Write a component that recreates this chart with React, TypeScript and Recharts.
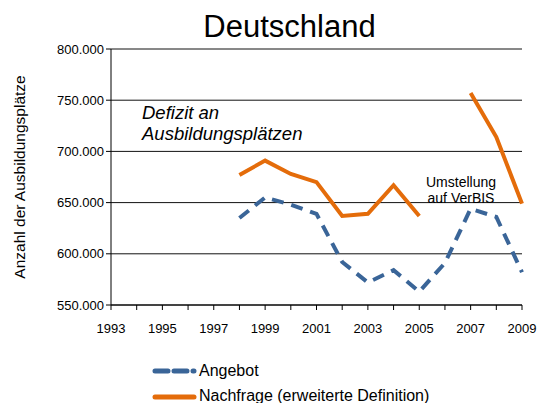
import React from 'react';
import { LineChart, Line, XAxis, YAxis, CartesianGrid } from 'recharts';

const years = [1998, 1999, 2000, 2001, 2002, 2003, 2004, 2005, 2006, 2007, 2008, 2009];
const angebot = [635000, 655000, 648000, 639000, 592000, 572000, 584000, 563000, 591000, 644000, 636000, 582000];
const nachfrage = [677000, 691000, 678000, 670000, 637000, 639000, 667000, 637000, null, 757000, 714000, 649000];
const xTicks = [1993, 1994, 1995, 1996, 1997, 1998, 1999, 2000, 2001, 2002, 2003, 2004, 2005, 2006, 2007, 2008, 2009];
const yTicks = [550000, 600000, 650000, 700000, 750000, 800000];

const BLUE = '#3A6598';
const ORANGE = '#E46C0A';
const FONT = '"Liberation Sans", Arial, sans-serif';

const data = years.map((year, i) => ({ year, angebot: angebot[i], nachfrage: nachfrage[i] }));

const fmt = (v: number) => v.toLocaleString('de-DE', { minimumFractionDigits: 0 }).replace(/\s/g, '.');

const XTick = (props: any) => {
  const { x, y, payload } = props;
  if (payload.value % 2 === 0) return null;
  return (
    <text x={x} y={y + 21} textAnchor="middle" fontSize={13} fill="#000" fontFamily={FONT}>
      {payload.value}
    </text>
  );
};

export default function App() {
  return (
    <div style={{ position: 'absolute', left: 0, top: 0, width: 539, height: 403, background: '#fff', fontFamily: FONT, overflow: 'hidden' }}>
      <LineChart width={539} height={403} data={data} margin={{ top: 49, right: 17, left: 0, bottom: 68 }}>
        <CartesianGrid vertical={false} stroke="#111" strokeWidth={1} />
        <XAxis
          dataKey="year"
          type="number"
          domain={[1993, 2009]}
          ticks={xTicks}
          interval={0}
          height={30}
          tick={<XTick />}
          tickSize={5}
          axisLine={{ stroke: '#000' }}
          tickLine={{ stroke: '#000' }}
        />
        <YAxis
          type="number"
          domain={[550000, 800000]}
          ticks={yTicks}
          width={111}
          tickFormatter={fmt}
          tickSize={5}
          tick={{ fontSize: 13, fill: '#000', fontFamily: FONT }}
          axisLine={{ stroke: '#000' }}
          tickLine={{ stroke: '#000' }}
          label={{ value: 'Anzahl der Ausbildungsplätze', angle: -90, position: 'insideLeft', offset: 19, style: { fontSize: 15.5, fill: '#000', fontFamily: FONT, textAnchor: 'middle' } }}
        />
        <Line dataKey="nachfrage" stroke={ORANGE} strokeWidth={4} dot={false} connectNulls={false} isAnimationActive={false} />
        <Line dataKey="angebot" stroke={BLUE} strokeWidth={4} strokeDasharray="12 8" dot={false} isAnimationActive={false} />
      </LineChart>

      <div style={{ position: 'absolute', left: 0, width: 579, top: 9, textAlign: 'center', fontSize: 31, lineHeight: '36px', color: '#000' }}>Deutschland</div>

      <div style={{ position: 'absolute', left: 142, top: 102, fontSize: 18.5, fontStyle: 'italic', lineHeight: '21px', color: '#000' }}>
        Defizit an<br />Ausbildungsplätzen
      </div>

      <div style={{ position: 'absolute', left: 411, width: 100, top: 174, fontSize: 14, lineHeight: '16px', textAlign: 'center', color: '#000' }}>
        Umstellung<br />auf VerBIS
      </div>

      <svg style={{ position: 'absolute', left: 150, top: 362 }} width={50} height={45}>
        <line x1={5} y1={9} x2={44} y2={9} stroke={BLUE} strokeWidth={5} strokeDasharray="13 6" strokeLinecap="round" />
        <line x1={5} y1={35} x2={44} y2={35} stroke={ORANGE} strokeWidth={5} strokeLinecap="round" />
      </svg>
      <div style={{ position: 'absolute', left: 199, top: 361, fontSize: 16, color: '#000', lineHeight: '19px' }}>Angebot</div>
      <div style={{ position: 'absolute', left: 199, top: 386, fontSize: 16, color: '#000', lineHeight: '19px', whiteSpace: 'nowrap' }}>Nachfrage (erweiterte Definition)</div>
    </div>
  );
}
